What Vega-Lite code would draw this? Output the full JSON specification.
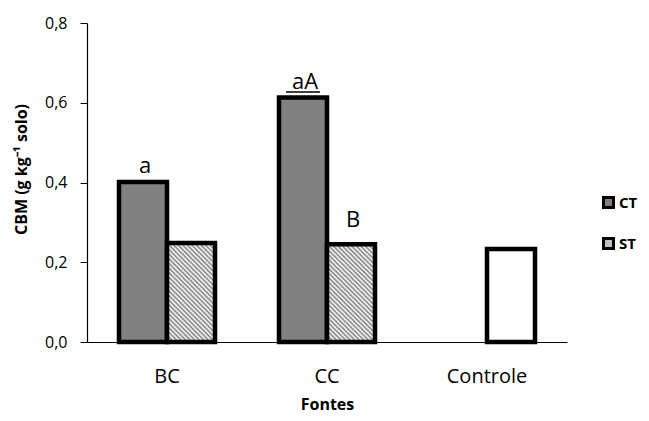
{
  "$schema": "https://vega.github.io/schema/vega-lite/v6.json",
  "width": 480,
  "height": 319,
  "autosize": "none",
  "padding": {"left": 87, "top": 23, "right": 82, "bottom": 79},
  "background": "white",
  "config": {
    "view": {"stroke": null},
    "font": "Open Sans",
    "axis": {"domainColor": "black", "tickColor": "black", "labelColor": "black", "titleColor": "black", "grid": false, "domainWidth": 1.2}
  },
  "data": {
    "values": [
      {"fonte": "BC", "serie": "CT", "cbm": 0.401, "letra": "a"},
      {"fonte": "BC", "serie": "ST", "cbm": 0.248, "letra": ""},
      {"fonte": "CC", "serie": "CT", "cbm": 0.613, "letra": "aA"},
      {"fonte": "CC", "serie": "ST", "cbm": 0.245, "letra": "B"},
      {"fonte": "Controle", "serie": "ST", "cbm": 0.233, "letra": ""}
    ]
  },
  "encoding": {
    "x": {
      "field": "fonte", "type": "nominal", "sort": ["BC", "CC", "Controle"],
      "scale": {"paddingInner": 0.4, "paddingOuter": 0.2},
      "axis": {"title": "Fontes", "labelAngle": 0, "ticks": false, "labelPadding": 24, "labelFontSize": 20, "titleFontSize": 16, "titleFontWeight": "bold", "titlePadding": 10}
    },
    "xOffset": {"field": "serie", "type": "nominal", "scale": {"domain": ["CT", "ST"]}},
    "y": {
      "field": "cbm", "type": "quantitative",
      "scale": {"domain": [0, 0.8], "nice": false},
      "axis": {"title": "CBM (g kg⁻¹ solo)", "values": [0, 0.2, 0.4, 0.6, 0.8], "labelExpr": "replace(format(datum.value, '.1f'), '.', ',')", "tickSize": 7, "labelPadding": 13, "labelFontSize": 16, "titleFontSize": 16, "titleFontWeight": "bold", "titlePadding": 15, "titleY": 146}
    }
  },
  "layer": [
    {
      "mark": {"type": "bar", "stroke": "black", "strokeWidth": 4.5, "strokeJoin": "miter"},
      "encoding": {
        "fill": {
          "condition": [
            {"test": "datum.fonte === 'Controle'", "value": "#ffffff"},
            {"test": "datum.serie === 'ST'", "value": {"gradient": "linear", "x1": 0, "y1": 1, "x2": 0.5885, "y2": -0.2015, "stops": [
              {"offset": 0, "color": "#ffffff"}, {"offset": 0.015625, "color": "#7f7f7f"}, {"offset": 0.03125, "color": "#ffffff"}, {"offset": 0.046875, "color": "#7f7f7f"},
              {"offset": 0.0625, "color": "#ffffff"}, {"offset": 0.078125, "color": "#7f7f7f"}, {"offset": 0.09375, "color": "#ffffff"}, {"offset": 0.109375, "color": "#7f7f7f"},
              {"offset": 0.125, "color": "#ffffff"}, {"offset": 0.140625, "color": "#7f7f7f"}, {"offset": 0.15625, "color": "#ffffff"}, {"offset": 0.171875, "color": "#7f7f7f"},
              {"offset": 0.1875, "color": "#ffffff"}, {"offset": 0.203125, "color": "#7f7f7f"}, {"offset": 0.21875, "color": "#ffffff"}, {"offset": 0.234375, "color": "#7f7f7f"},
              {"offset": 0.25, "color": "#ffffff"}, {"offset": 0.265625, "color": "#7f7f7f"}, {"offset": 0.28125, "color": "#ffffff"}, {"offset": 0.296875, "color": "#7f7f7f"},
              {"offset": 0.3125, "color": "#ffffff"}, {"offset": 0.328125, "color": "#7f7f7f"}, {"offset": 0.34375, "color": "#ffffff"}, {"offset": 0.359375, "color": "#7f7f7f"},
              {"offset": 0.375, "color": "#ffffff"}, {"offset": 0.390625, "color": "#7f7f7f"}, {"offset": 0.40625, "color": "#ffffff"}, {"offset": 0.421875, "color": "#7f7f7f"},
              {"offset": 0.4375, "color": "#ffffff"}, {"offset": 0.453125, "color": "#7f7f7f"}, {"offset": 0.46875, "color": "#ffffff"}, {"offset": 0.484375, "color": "#7f7f7f"},
              {"offset": 0.5, "color": "#ffffff"}, {"offset": 0.515625, "color": "#7f7f7f"}, {"offset": 0.53125, "color": "#ffffff"}, {"offset": 0.546875, "color": "#7f7f7f"},
              {"offset": 0.5625, "color": "#ffffff"}, {"offset": 0.578125, "color": "#7f7f7f"}, {"offset": 0.59375, "color": "#ffffff"}, {"offset": 0.609375, "color": "#7f7f7f"},
              {"offset": 0.625, "color": "#ffffff"}, {"offset": 0.640625, "color": "#7f7f7f"}, {"offset": 0.65625, "color": "#ffffff"}, {"offset": 0.671875, "color": "#7f7f7f"},
              {"offset": 0.6875, "color": "#ffffff"}, {"offset": 0.703125, "color": "#7f7f7f"}, {"offset": 0.71875, "color": "#ffffff"}, {"offset": 0.734375, "color": "#7f7f7f"},
              {"offset": 0.75, "color": "#ffffff"}, {"offset": 0.765625, "color": "#7f7f7f"}, {"offset": 0.78125, "color": "#ffffff"}, {"offset": 0.796875, "color": "#7f7f7f"},
              {"offset": 0.8125, "color": "#ffffff"}, {"offset": 0.828125, "color": "#7f7f7f"}, {"offset": 0.84375, "color": "#ffffff"}, {"offset": 0.859375, "color": "#7f7f7f"},
              {"offset": 0.875, "color": "#ffffff"}, {"offset": 0.890625, "color": "#7f7f7f"}, {"offset": 0.90625, "color": "#ffffff"}, {"offset": 0.921875, "color": "#7f7f7f"},
              {"offset": 0.9375, "color": "#ffffff"}, {"offset": 0.953125, "color": "#7f7f7f"}, {"offset": 0.96875, "color": "#ffffff"}, {"offset": 0.984375, "color": "#7f7f7f"},
              {"offset": 1, "color": "#ffffff"}
            ]}}
          ],
          "field": "serie", "type": "nominal",
          "scale": {"domain": ["CT", "ST"], "range": ["#808080", "#c0c0c0"]},
          "legend": {
            "title": null, "orient": "none", "legendX": 514, "legendY": 172, "padding": 0,
            "symbolType": "square", "symbolSize": 100, "symbolStrokeColor": "black", "symbolStrokeWidth": 3, "symbolOpacity": 1,
            "labelFontSize": 15, "labelFontWeight": "bold", "labelColor": "black", "labelOffset": 3, "rowPadding": 18,
            "encode": {"symbols": {"update": {
              "fill": [
                {"test": "datum.value === 'ST'", "value": {"gradient": "linear", "x1": 0, "y1": 1, "x2": 1, "y2": 0, "stops": [
                  {"offset": 0, "color": "#ffffff"}, {"offset": 0.2, "color": "#7f7f7f"}, {"offset": 0.4, "color": "#ffffff"}, {"offset": 0.6, "color": "#7f7f7f"}, {"offset": 0.8, "color": "#ffffff"}, {"offset": 1, "color": "#7f7f7f"}
                ]}},
                {"value": "#808080"}
              ],
              "stroke": {"value": "black"},
              "strokeWidth": {"value": 3}
            }}}
          }
        }
      }
    },
    {
      "transform": [{"filter": "datum.letra === 'a' || datum.letra === 'aA'"}],
      "mark": {"type": "text", "fontSize": 22, "baseline": "alphabetic", "dx": 2, "dy": -9, "color": "black"},
      "encoding": {"text": {"field": "letra"}}
    },
    {
      "transform": [{"filter": "datum.letra === 'B'"}],
      "mark": {"type": "text", "fontSize": 22, "baseline": "alphabetic", "dx": 2, "dy": -17, "color": "black"},
      "encoding": {"text": {"field": "letra"}}
    },
    {
      "transform": [{"filter": "datum.letra === 'aA'"}],
      "mark": {"type": "tick", "size": 34, "thickness": 1.5, "color": "black", "yOffset": -5.5, "opacity": 1},
      "encoding": {}
    }
  ]
}
